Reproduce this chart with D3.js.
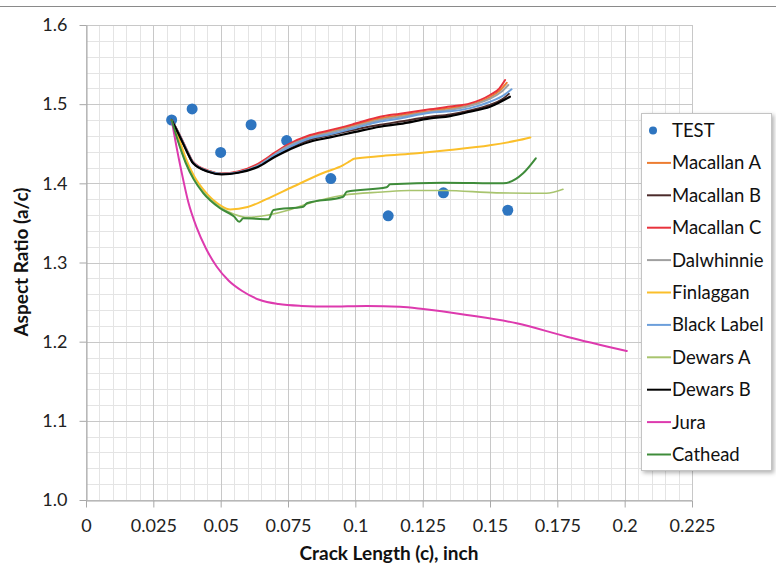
<!DOCTYPE html>
<html>
<head>
<meta charset="utf-8">
<script src="https://cdn.jsdelivr.net/npm/d3@7"></script>
<style>
  html, body { margin: 0; padding: 0; background: #fff; }
  svg { display: block; font-family: Lato, "Open Sans", sans-serif; }
</style>
</head>
<body>
<svg id="chart" width="776" height="578"></svg>
<script>
// ---------- data ----------
const xTicks = [0, 0.025, 0.05, 0.075, 0.1, 0.125, 0.15, 0.175, 0.2, 0.225];
const xTickLabels = ["0", "0.025", "0.05", "0.075", "0.1", "0.125", "0.15", "0.175", "0.2", "0.225"];
const yTicks = [1.0, 1.1, 1.2, 1.3, 1.4, 1.5, 1.6];
const yTickLabels = ["1.0", "1.1", "1.2", "1.3", "1.4", "1.5", "1.6"];

const testX = [0.0318, 0.0394, 0.0500, 0.0613, 0.0745, 0.0909, 0.1122, 0.1327, 0.1566];
const testY = [1.480, 1.494, 1.439, 1.474, 1.454, 1.406, 1.359, 1.388, 1.366];

const macallanA = [[0.0318,1.480],[0.035,1.459],[0.0375,1.441],[0.0398,1.426],[0.0454,1.4155],[0.0504,1.412],[0.0565,1.4145],[0.064,1.424],[0.0702,1.438],[0.0739,1.446],[0.0832,1.459],[0.0906,1.465],[0.1,1.474],[0.1092,1.482],[0.1166,1.486],[0.1277,1.491],[0.1352,1.495],[0.1426,1.499],[0.15,1.509],[0.1535,1.517],[0.1562,1.527]];
const macallanB = [[0.0318,1.480],[0.035,1.458],[0.0375,1.440],[0.0398,1.4255],[0.0454,1.415],[0.0504,1.4118],[0.0565,1.414],[0.064,1.422],[0.0702,1.435],[0.0739,1.442],[0.0832,1.455],[0.0906,1.461],[0.1,1.468],[0.1092,1.474],[0.1166,1.478],[0.1277,1.484],[0.1352,1.487],[0.1426,1.492],[0.15,1.499],[0.1545,1.506],[0.157,1.513]];
const macallanC = [[0.0318,1.480],[0.035,1.460],[0.0375,1.442],[0.0398,1.427],[0.0454,1.416],[0.0504,1.4125],[0.0565,1.415],[0.064,1.425],[0.0702,1.439],[0.0739,1.447],[0.0832,1.461],[0.0906,1.467],[0.1,1.4755],[0.1092,1.4842],[0.1166,1.488],[0.1277,1.4935],[0.1352,1.497],[0.1426,1.501],[0.15,1.5116],[0.1535,1.520],[0.1556,1.5305]];
const dalwhinnie = [[0.0318,1.480],[0.035,1.459],[0.0375,1.441],[0.0398,1.426],[0.0454,1.4155],[0.0504,1.412],[0.0565,1.414],[0.064,1.423],[0.0702,1.437],[0.0739,1.445],[0.0832,1.458],[0.0906,1.464],[0.1,1.472],[0.1092,1.480],[0.1166,1.484],[0.1277,1.490],[0.1352,1.493],[0.1426,1.498],[0.15,1.507],[0.154,1.515],[0.1568,1.5242]];
const finlaggan = [[0.0318,1.480],[0.034,1.462],[0.037,1.432],[0.040,1.410],[0.0436,1.392],[0.050,1.372],[0.0535,1.367],[0.060,1.370],[0.067,1.380],[0.077,1.396],[0.088,1.413],[0.0955,1.423],[0.098,1.428],[0.0995,1.431],[0.110,1.4345],[0.123,1.438],[0.135,1.442],[0.150,1.448],[0.160,1.454],[0.165,1.458]];
const blackLabel = [[0.0318,1.480],[0.035,1.459],[0.0375,1.441],[0.0398,1.426],[0.0454,1.415],[0.0504,1.4118],[0.0565,1.4138],[0.064,1.422],[0.0702,1.436],[0.0739,1.443],[0.0832,1.457],[0.0906,1.462],[0.1,1.470],[0.1092,1.478],[0.1166,1.482],[0.1277,1.4892],[0.1352,1.491],[0.1426,1.495],[0.15,1.503],[0.155,1.511],[0.158,1.5188]];
const dewarsA = [[0.0318,1.480],[0.034,1.455],[0.037,1.427],[0.040,1.406],[0.0436,1.389],[0.0498,1.370],[0.055,1.361],[0.060,1.357],[0.0677,1.360],[0.075,1.366],[0.082,1.374],[0.0955,1.385],[0.110,1.389],[0.120,1.391],[0.133,1.391],[0.1524,1.388],[0.1709,1.3874],[0.1771,1.3925]];
const dewarsB = [[0.0318,1.480],[0.035,1.458],[0.0375,1.440],[0.0398,1.4253],[0.0454,1.4147],[0.0504,1.4114],[0.0565,1.4134],[0.064,1.421],[0.0702,1.4336],[0.0739,1.440],[0.0832,1.4525],[0.0906,1.458],[0.1,1.465],[0.1092,1.4715],[0.1166,1.475],[0.1277,1.482],[0.1352,1.485],[0.1426,1.4905],[0.15,1.4968],[0.1574,1.5094]];
const jura = [[0.0318,1.480],[0.0335,1.448],[0.0355,1.414],[0.038,1.376],[0.0411,1.344],[0.0445,1.318],[0.0485,1.295],[0.053,1.277],[0.058,1.264],[0.0646,1.2526],[0.0715,1.2475],[0.0800,1.2452],[0.0900,1.2444],[0.1042,1.2452],[0.1166,1.2442],[0.1252,1.2413],[0.1414,1.2337],[0.1599,1.2232],[0.1785,1.2063],[0.2008,1.1882]];
const cathead = [[0.0318,1.480],[0.034,1.455],[0.037,1.426],[0.040,1.405],[0.0436,1.3874],[0.0498,1.3685],[0.055,1.358],[0.0569,1.3515],[0.0584,1.3558],[0.0677,1.3546],[0.0696,1.3663],[0.0807,1.3705],[0.082,1.3748],[0.0955,1.3831],[0.0968,1.3894],[0.1116,1.395],[0.1129,1.3988],[0.1327,1.4008],[0.1549,1.400],[0.1623,1.4127],[0.167,1.4316]];

const seriesNames = ["Macallan A","Macallan B","Macallan C","Dalwhinnie","Finlaggan","Black Label","Dewars A","Dewars B","Jura","Cathead"];
const seriesData = [macallanA, macallanB, macallanC, dalwhinnie, finlaggan, blackLabel, dewarsA, dewarsB, jura, cathead];
const seriesColors = ["#ED7D31","#4B2A2A","#E8323C","#A0A0A0","#FBBF2A","#6C9FDB","#A8C46E","#000000","#DD3AAE","#3F8C3A"];
const seriesWidths = [2, 2, 2, 2, 2, 2, 1.6, 2.2, 2, 2];
const testColor = "#2E75C0";

// ---------- layout ----------
const svg = d3.select("#chart");
const x = d3.scaleLinear().domain([0, 0.225]).range([86, 692]);
const y = d3.scaleLinear().domain([1.0, 1.6]).range([500, 25]);

// top border line
svg.append("line").attr("x1", 0).attr("x2", 776).attr("y1", 6.5).attr("y2", 6.5)
  .attr("stroke", "#8a8a8a").attr("stroke-width", 1.2);

// minor grid
const g = svg.append("g");
const xMinor = d3.range(0, 46).map(i => i * 0.005);
const yMinor = d3.range(0, 31).map(i => 1.0 + i * 0.02);
g.selectAll(".xm").data(xMinor).join("line")
  .attr("x1", d => Math.round(x(d)) + 0.5).attr("x2", d => Math.round(x(d)) + 0.5)
  .attr("y1", y(1.6)).attr("y2", y(1.0)).attr("stroke", "#e4e4e4").attr("stroke-width", 1);
g.selectAll(".ym").data(yMinor).join("line")
  .attr("y1", d => Math.round(y(d)) + 0.5).attr("y2", d => Math.round(y(d)) + 0.5)
  .attr("x1", x(0)).attr("x2", x(0.225)).attr("stroke", "#e4e4e4").attr("stroke-width", 1);
// major grid
g.selectAll(".xM").data(xTicks).join("line")
  .attr("x1", d => Math.round(x(d)) + 0.5).attr("x2", d => Math.round(x(d)) + 0.5)
  .attr("y1", y(1.6)).attr("y2", y(1.0)).attr("stroke", "#c8c8c8").attr("stroke-width", 1);
g.selectAll(".yM").data(yTicks).join("line")
  .attr("y1", d => Math.round(y(d)) + 0.5).attr("y2", d => Math.round(y(d)) + 0.5)
  .attr("x1", x(0)).attr("x2", x(0.225)).attr("stroke", "#c8c8c8").attr("stroke-width", 1);

// axes
const yAxis = d3.axisLeft(y).tickValues(yTicks).tickFormat((d, i) => yTickLabels[i]).tickSize(7).tickSizeOuter(0).tickPadding(12);
const xAxis = d3.axisBottom(x).tickValues(xTicks).tickFormat((d, i) => xTickLabels[i]).tickSize(7).tickSizeOuter(0).tickPadding(12);
const ya = svg.append("g").attr("transform", "translate(86.5,0)").call(yAxis);
const xa = svg.append("g").attr("transform", "translate(0,500.5)").call(xAxis);
[ya, xa].forEach(a => {
  a.select(".domain").attr("stroke", "#a8a8a8");
  a.selectAll(".tick line").attr("stroke", "#a8a8a8");
  a.selectAll(".tick text").attr("fill", "#222").style("font-size", "18px").style("font-family", "Lato, 'Open Sans', sans-serif");
});

// axis titles
svg.append("text").attr("x", 389).attr("y", 560).attr("text-anchor", "middle")
  .style("font-size", "19px").style("font-weight", "bold").attr("fill", "#111")
  .text("Crack Length (c), inch");
svg.append("text").attr("transform", "translate(28,262) rotate(-90)").attr("text-anchor", "middle")
  .style("font-size", "19px").style("font-weight", "bold").attr("fill", "#111")
  .text("Aspect Ratio (a/c)");

// series
const line = d3.line().x(d => x(d[0])).y(d => y(d[1])).curve(d3.curveMonotoneX);
const plot = svg.append("g");
plot.selectAll(".test").data(testX).join("circle")
  .attr("cx", d => x(d)).attr("cy", (d, i) => y(testY[i])).attr("r", 5.5).attr("fill", testColor);
seriesData.forEach((s, i) => {
  plot.append("path").datum(s).attr("d", line).attr("fill", "none")
    .attr("stroke", seriesColors[i]).attr("stroke-width", seriesWidths[i])
    .attr("stroke-linejoin", "round").attr("stroke-linecap", "round");
});

// legend
const defs = svg.append("defs");
const f = defs.append("filter").attr("id", "sh").attr("x", "-10%").attr("y", "-10%").attr("width", "130%").attr("height", "130%");
f.append("feDropShadow").attr("dx", 2).attr("dy", 2).attr("stdDeviation", 2).attr("flood-color", "#000").attr("flood-opacity", 0.3);
const lg = svg.append("g");
lg.append("rect").attr("x", 641.5).attr("y", 113.5).attr("width", 130).attr("height", 357)
  .attr("fill", "#fff").attr("stroke", "#c4c4c4").attr("filter", "url(#sh)");
const rowY = i => 130.5 + 32.4 * i;
lg.append("circle").attr("cx", 653).attr("cy", rowY(0)).attr("r", 4).attr("fill", testColor);
lg.append("text").attr("x", 672).attr("y", rowY(0)).attr("dy", "0.35em")
  .style("font-size", "18.5px").attr("fill", "#111").text("TEST");
seriesNames.forEach((n, i) => {
  const yy = rowY(i + 1);
  lg.append("line").attr("x1", 647).attr("x2", 671).attr("y1", yy).attr("y2", yy)
    .attr("stroke", seriesColors[i]).attr("stroke-width", 2);
  lg.append("text").attr("x", 672).attr("y", yy).attr("dy", "0.35em")
    .style("font-size", "18.5px").attr("fill", "#111").text(n);
});
</script>
</body>
</html>
